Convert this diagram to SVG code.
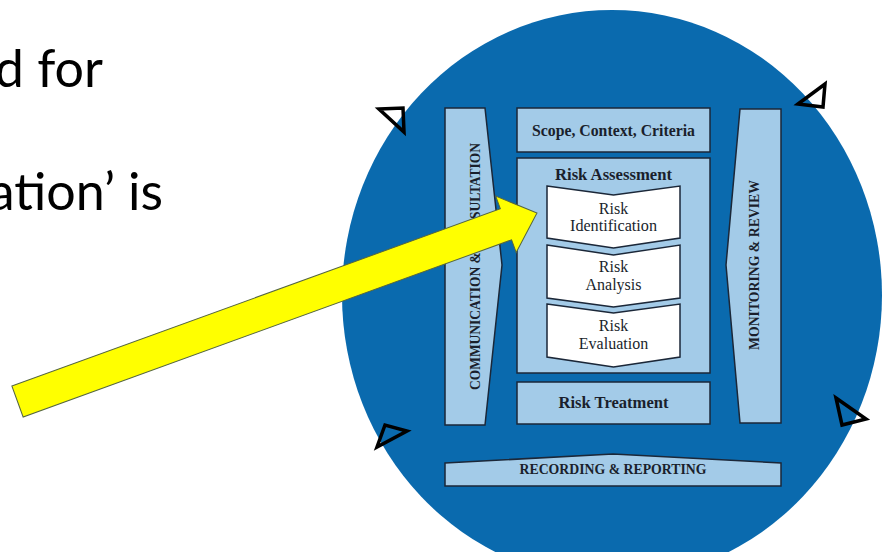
<svg xmlns="http://www.w3.org/2000/svg" width="882" height="552" viewBox="0 0 882 552">
  <style>
    .slide { font-family: Lato, "Liberation Sans", sans-serif; font-size: 52px; fill: #000; }
    .box { fill: #a3cbe8; stroke: #1b2738; stroke-width: 1.5; stroke-linejoin: miter; }
    .step { fill: #ffffff; stroke: #1b2738; stroke-width: 1.5; }
    .lbl { font-family: "Liberation Serif", "Times New Roman", serif; font-weight: bold; fill: #1a1f2c; text-anchor: middle; }
    .stepText { font-family: "Liberation Serif", "Times New Roman", serif; font-size: 16px; fill: #1a1f2c; text-anchor: middle; }
    .cycle { fill: none; stroke: #000; stroke-width: 3.5; stroke-linejoin: miter; }
    .pointer { fill: #ffff00; stroke: #55663f; stroke-width: 1; }
  </style>

  <rect width="882" height="552" fill="#ffffff"/>

  <!-- slide text, cut at the left edge -->
  <g id="slide-text">
    <text class="slide" x="103" y="87" text-anchor="end">d for</text>
    <text class="slide" x="163" y="210" text-anchor="end">ation’ is</text>
  </g>

  <!-- process backdrop -->
  <ellipse id="backdrop" cx="612" cy="295" rx="270" ry="285" fill="#0a6aae"/>

  <g id="communication">
    <polygon class="box" points="445,108 485,108 502,265 485,425 445,425"/>
    <text class="lbl" font-size="14.5" textLength="247" lengthAdjust="spacingAndGlyphs" transform="translate(479.5,266.5) rotate(-90)">COMMUNICATION &amp; CONSULTATION</text>
  </g>

  <g id="scope">
    <rect class="box" x="517" y="108" width="193" height="44"/>
    <text class="lbl" font-size="16" x="613.5" y="135.5" textLength="163" lengthAdjust="spacingAndGlyphs">Scope, Context, Criteria</text>
  </g>

  <g id="assessment">
    <rect class="box" x="517" y="158" width="193" height="215"/>
    <text class="lbl" font-size="16" x="613.5" y="180" textLength="117" lengthAdjust="spacingAndGlyphs">Risk Assessment</text>
  </g>

  <g id="identification">
    <polygon class="step" points="547,186 613.5,195 680,186 680,238 613.5,248 547,238"/>
    <text class="stepText" x="613.5" y="213.5">Risk</text>
    <text class="stepText" x="613.5" y="231" textLength="87" lengthAdjust="spacingAndGlyphs">Identification</text>
  </g>

  <g id="analysis">
    <polygon class="step" points="547,245 613.5,255 680,245 680,298 613.5,307 547,298"/>
    <text class="stepText" x="613.5" y="272">Risk</text>
    <text class="stepText" x="613.5" y="290">Analysis</text>
  </g>

  <g id="evaluation">
    <polygon class="step" points="547,304 613.5,313 680,304 680,357 613.5,367 547,357"/>
    <text class="stepText" x="613.5" y="330.5">Risk</text>
    <text class="stepText" x="613.5" y="348.5">Evaluation</text>
  </g>

  <g id="treatment">
    <rect class="box" x="517" y="382" width="193" height="42"/>
    <text class="lbl" font-size="16" x="613.5" y="408" textLength="110" lengthAdjust="spacingAndGlyphs">Risk Treatment</text>
  </g>

  <g id="monitoring">
    <polygon class="box" points="740,109 781,109 781,423 740,423 726,265"/>
    <text class="lbl" font-size="14.5" textLength="170" lengthAdjust="spacingAndGlyphs" transform="translate(758.5,265) rotate(-90)">MONITORING &amp; REVIEW</text>
  </g>

  <g id="recording">
    <polygon class="box" points="445,463 613,454 781,463 781,486 445,486"/>
    <text class="lbl" font-size="14.5" x="613" y="474" textLength="187" lengthAdjust="spacingAndGlyphs">RECORDING &amp; REPORTING</text>
  </g>

  <g id="connectors">
    <!-- open arrowheads marking the cycle round the backdrop -->
    <polygon class="cycle" points="379,109 403,108 404,132"/>
    <polygon class="cycle" points="798,104 825,84 823,107"/>
    <polygon class="cycle" points="836,398 866,419 842,425"/>
    <polygon class="cycle" points="377,447 385,425 407,431"/>
    <!-- yellow block arrow pointing at the identification step -->
    <polygon class="pointer" transform="translate(17.5,401.5) rotate(-19.94)"
             points="0,-16.5 519.6,-16.5 519.6,-30 552.6,0 519.6,30 519.6,16.5 0,16.5"/>
  </g>
</svg>
